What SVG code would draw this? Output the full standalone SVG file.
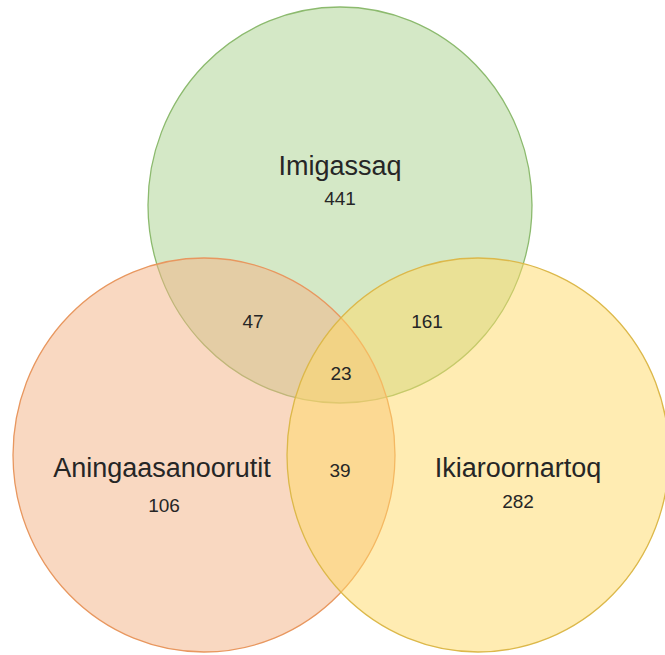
<svg xmlns="http://www.w3.org/2000/svg" width="665" height="655" viewBox="0 0 665 655">
<style>
.lbl{font-family:"Liberation Sans",Arial,sans-serif;font-size:27px;fill:#262626;text-anchor:middle}
.num{font-family:"Liberation Sans",Arial,sans-serif;font-size:19px;fill:#262626;text-anchor:middle}
.set{fill-opacity:0.5;stroke-width:1.3}
</style>
<rect width="665" height="655" fill="#ffffff"/>
<g id="imigassaq">
<ellipse class="set" cx="340" cy="205" rx="192" ry="198" fill="#a9d18e" stroke="#8cba6e"/>
</g>
<g id="aningaasanoorutit">
<ellipse class="set" cx="204" cy="455" rx="191" ry="197" fill="#f4b183" stroke="#e8975f"/>
</g>
<g id="ikiaroornartoq">
<ellipse class="set" cx="478" cy="455" rx="191" ry="197" fill="#ffd966" stroke="#dcb84a"/>
</g>
<g id="labels">
<text class="lbl" x="340" y="175">Imigassaq</text>
<text class="num" x="340" y="205">441</text>
<text class="lbl" x="162" y="477">Aningaasanoorutit</text>
<text class="num" x="164" y="512">106</text>
<text class="lbl" x="518" y="477">Ikiaroornartoq</text>
<text class="num" x="518" y="508">282</text>
<text class="num" x="253" y="328">47</text>
<text class="num" x="427" y="328">161</text>
<text class="num" x="341" y="380">23</text>
<text class="num" x="340" y="477">39</text>
</g>
</svg>
